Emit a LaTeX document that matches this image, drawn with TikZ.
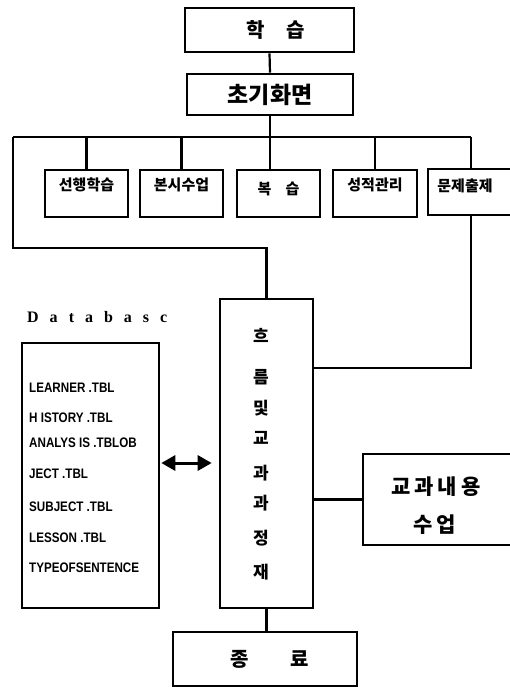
\documentclass[tikz,border=0pt]{standalone}
\usepackage{fontspec}
\setmainfont{Liberation Serif}
\newfontfamily\kr{Noto Sans CJK KR}
\newfontfamily\dbf{Liberation Sans}
\usetikzlibrary{arrows.meta}
\begin{document}
\begin{tikzpicture}[x=1pt,y=-1pt,
  box/.style={draw, line width=2.6pt, rectangle, inner sep=0pt},
  wire/.style={line width=2.2pt},
  small/.style={box, minimum width=83pt, minimum height=47pt, font=\kr\bfseries\fontsize{15}{17}\selectfont, text height=12pt, text depth=18pt},
  dbline/.style={anchor=west, inner sep=0pt, font=\dbf\bfseries\fontsize{12}{14}\selectfont},
  krtext/.style={inner sep=0pt, font=\kr\bfseries\fontsize{20}{24}\selectfont}]
\useasboundingbox (0,0) rectangle (510,687);
\fill[white] (0,0) rectangle (510,687);

% top boxes
\node[box, minimum width=169pt, minimum height=44pt, font=\kr\bfseries\fontsize{20}{24}\selectfont] (hak) at (269.5,30) {\hspace*{12pt}학\hspace{22pt}습};
\node[box, minimum width=166pt, minimum height=41pt, font=\kr\bfseries\fontsize{23}{26}\selectfont] (cho) at (270,94.5) {초기화면};

% menu boxes
\node[small] (b1) at (86.5,193.5) {선행학습};
\node[small] (b2) at (181.5,193.5) {본시수업};
\node[small, text depth=10pt] (b3) at (278.5,193.5) {복\hspace{14pt}습};
\node[small, minimum width=84pt] (b4) at (375,193.5) {성적관리};
\node[small, minimum width=92pt, minimum height=46pt, text depth=14pt] (b5) at (474,192) {\hspace*{-18pt}문제출제};

% main flow box
\node[box, minimum width=93pt, minimum height=309pt] (flow) at (266.5,453.5) {};
\node[krtext, font=\kr\bfseries\fontsize{17}{20}\selectfont] (f1) at (261,335) {흐};
\node[krtext, font=\kr\bfseries\fontsize{17}{20}\selectfont] (f2) at (261,377) {름};
\node[krtext, font=\kr\bfseries\fontsize{17}{20}\selectfont] (f3) at (261,408) {및};
\node[krtext, font=\kr\bfseries\fontsize{17}{20}\selectfont] (f4) at (261,438) {교};
\node[krtext, font=\kr\bfseries\fontsize{17}{20}\selectfont] (f5) at (261,473) {과};
\node[krtext, font=\kr\bfseries\fontsize{17}{20}\selectfont] (f6) at (261,503) {과};
\node[krtext, font=\kr\bfseries\fontsize{17}{20}\selectfont] (f7) at (261,538) {정};
\node[krtext, font=\kr\bfseries\fontsize{17}{20}\selectfont] (f8) at (261,572) {재};

% content box
\node[box, minimum width=157pt, minimum height=91pt] (kyo) at (441.5,499.5) {};
\node[krtext, font=\kr\bfseries\fontsize{21}{24}\selectfont] (k1) at (436,487) {교\hspace{4pt}과\hspace{4pt}내\hspace{4pt}용};
\node[krtext, font=\kr\bfseries\fontsize{21}{24}\selectfont] (k2) at (435,525) {수\hspace{4pt}업};

% end box
\node[box, minimum width=184pt, minimum height=54pt, font=\kr\bfseries\fontsize{20}{24}\selectfont] (fin) at (265,659) {\hspace*{9pt}종\hspace{42pt}료};

% database
\node[anchor=west, inner sep=0pt, font=\bfseries\fontsize{16}{18}\selectfont] (dbl) at (27,317) {D\hspace{11pt}a\hspace{11pt}t\hspace{11pt}a\hspace{11pt}b\hspace{11pt}a\hspace{11pt}s\hspace{11pt}c};
\node[box, minimum width=137pt, minimum height=265pt] (db) at (90.5,475.5) {};
\node[dbline] (t1) at (29,388) {\scalebox{0.97}[1.15]{LEARNER .TBL}};
\node[dbline] (t2) at (29,418) {\scalebox{0.97}[1.15]{H ISTORY .TBL}};
\node[dbline] (t3) at (29,443) {\scalebox{0.97}[1.15]{ANALYS IS .TBLOB}};
\node[dbline] (t4) at (29,474) {\scalebox{0.97}[1.15]{JECT .TBL}};
\node[dbline] (t5) at (29,507) {\scalebox{0.97}[1.15]{SUBJECT .TBL}};
\node[dbline] (t6) at (29,538) {\scalebox{0.97}[1.15]{LESSON .TBL}};
\node[dbline] (t7) at (29,568) {\scalebox{0.97}[1.15]{TYPEOFSENTENCE}};

% coordinates
\coordinate (busL) at (13,137);
\coordinate (busR) at (471,137);
\coordinate (loopY) at (13,248);
\coordinate (j5) at (471,368);
\coordinate (arY) at (0,463);

% connectors
\draw[wire] (hak.south) -- (cho.north);
\draw[wire] (cho.south) -- (cho.south |- b3.north);
\draw[wire] (busL) -- (busR);
\draw[wire] (b1.north |- busL) -- (b1.north);
\draw[wire] (b2.north |- busL) -- (b2.north);
\draw[wire] (b4.north |- busL) -- (b4.north);
\draw[wire] (busR) -- (busR |- b5.north);
\draw[wire] (busL) -- (loopY) -- (flow.north |- loopY) -- (flow.north);
\draw[wire] (j5 |- b5.south) -- (j5) -- (flow.east |- j5);
\draw[wire] (kyo.west -| flow.east) -- (kyo.west);
\draw[wire] (flow.south) -- (flow.south |- fin.north);
\draw[line width=3pt, {Triangle[length=14pt,width=15pt]}-{Triangle[length=14pt,width=15pt]}, shorten >=7pt, shorten <=1pt] (db.east |- arY) -- (flow.west |- arY);
\end{tikzpicture}
\end{document}
